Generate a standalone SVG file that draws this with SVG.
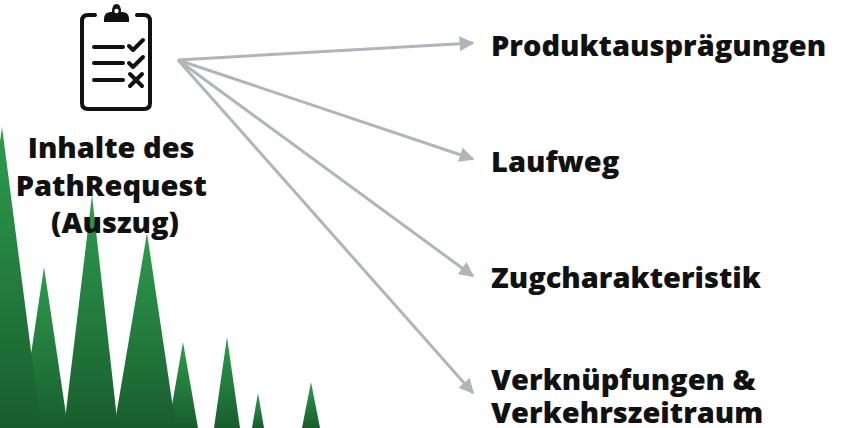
<svg xmlns="http://www.w3.org/2000/svg" width="841" height="428" viewBox="0 0 841 428">
  <defs>
    <linearGradient id="treeFill" x1="0" y1="0" x2="0" y2="1">
      <stop offset="0" stop-color="#2e9c4f"/>
      <stop offset="1" stop-color="#185d2d"/>
    </linearGradient>
    <marker id="arrowHead" viewBox="0 0 10 10" refX="9" refY="5" markerWidth="5" markerHeight="5" orient="auto" markerUnits="strokeWidth">
      <path d="M0,0 L10,5 L0,10 Z" fill="#b1b5bb"/>
    </marker>
    <style>
      .label { font-family: "Open Sans", "Noto Sans", "Liberation Sans", sans-serif; font-weight: 800; font-size: 29px; fill: #111; }
      .tree { fill: url(#treeFill); }
      .conn { stroke: #b1b5bb; stroke-width: 3; fill: none; marker-end: url(#arrowHead); }
      .icon { stroke: #111; stroke-width: 4; fill: none; stroke-linecap: round; stroke-linejoin: round; }
    </style>
  </defs>

  <rect width="841" height="428" fill="#ffffff"/>

  <!-- forest silhouette -->
  <g id="forest">
    <polygon class="tree" points="44,267 68,428 20,428"/>
    <polygon class="tree" points="2,127 41,428 -40,428"/>
    <polygon class="tree" points="92,195 118,428 64,428"/>
    <polygon class="tree" points="183,342 198,428 168,428"/>
    <polygon class="tree" points="147,233 176,428 114,428"/>
    <polygon class="tree" points="227,337 240,428 214,428"/>
    <polygon class="tree" points="258,393 264,428 252,428"/>
    <polygon class="tree" points="311,382 320,428 302,428"/>
  </g>

  <!-- connectors -->
  <g id="connectors">
    <line class="conn" x1="178" y1="60" x2="473" y2="43"/>
    <line class="conn" x1="178" y1="60" x2="473" y2="159"/>
    <line class="conn" x1="178" y1="60" x2="473" y2="276"/>
    <line class="conn" x1="178" y1="60" x2="473" y2="393"/>
  </g>

  <!-- source node: clipboard icon with caption -->
  <g id="source">
    <g id="clipboard-icon">
      <path class="icon" d="M95,15 H88 Q82,15 82,21 V103 Q82,109 88,109 H144 Q150,109 150,103 V21 Q150,15 144,15 H137"/>
      <path d="M104,22 H129 V19 Q129,12 122,12 H121 Q121,4 116.5,4 Q112,4 112,12 H111 Q104,12 104,19 Z" fill="#111"/>
      <circle cx="116.5" cy="11" r="2.2" fill="#fff"/>
      <line class="icon" x1="94" y1="47" x2="123" y2="47"/>
      <line class="icon" x1="94" y1="63" x2="123" y2="63"/>
      <line class="icon" x1="94" y1="80" x2="123" y2="80"/>
      <path class="icon" d="M129,46 L133,50 L143,40"/>
      <path class="icon" d="M129,63 L133,67 L143,57"/>
      <path class="icon" d="M130,74 L142,86 M142,74 L130,86"/>
    </g>
    <text class="label" text-anchor="middle">
      <tspan x="115" y="158">Inhalte des</tspan>
      <tspan x="115" y="196">PathRequest</tspan>
      <tspan x="115" y="233">(Auszug)</tspan>
    </text>
  </g>

  <g id="produktauspraegungen">
    <text class="label" x="491" y="56">Produktausprägungen</text>
  </g>
  <g id="laufweg">
    <text class="label" x="491" y="172">Laufweg</text>
  </g>
  <g id="zugcharakteristik">
    <text class="label" x="491" y="288">Zugcharakteristik</text>
  </g>
  <g id="verknuepfungen">
    <text class="label">
      <tspan x="491" y="390">Verknüpfungen &amp;</tspan>
      <tspan x="491" y="423">Verkehrszeitraum</tspan>
    </text>
  </g>
</svg>
